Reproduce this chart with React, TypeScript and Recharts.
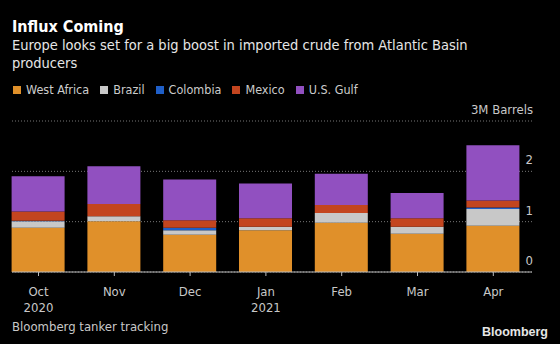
import { Bar, BarChart, CartesianGrid, XAxis, YAxis } from "recharts";

const months = ["Oct", "Nov", "Dec", "Jan", "Feb", "Mar", "Apr"];
const years = ["2020", "", "", "2021", "", "", ""];

const westAfrica = [0.88, 1.01, 0.74, 0.83, 0.98, 0.76, 0.92];
const brazil = [0.13, 0.1, 0.09, 0.07, 0.19, 0.14, 0.33];
const colombia = [0.01, 0, 0.05, 0, 0, 0, 0.03];
const mexico = [0.18, 0.24, 0.15, 0.17, 0.16, 0.17, 0.14];
const usGulf = [0.7, 0.75, 0.81, 0.69, 0.62, 0.5, 1.1];

const yTicks = [0, 1, 2, 3];

const series = [
  { key: "westAfrica", name: "West Africa", color: "#e0902a" },
  { key: "brazil", name: "Brazil", color: "#c8c8c8" },
  { key: "colombia", name: "Colombia", color: "#1f5fc8" },
  { key: "mexico", name: "Mexico", color: "#c3451f" },
  { key: "usGulf", name: "U.S. Gulf", color: "#9150c0" },
];

const data = months.map((m, i) => ({
  month: m,
  year: years[i],
  westAfrica: westAfrica[i],
  brazil: brazil[i],
  colombia: colombia[i],
  mexico: mexico[i],
  usGulf: usGulf[i],
}));

const FONT = '"DejaVu Sans Condensed", "Liberation Sans Narrow", "DejaVu Sans", sans-serif';

function MonthTick({ x, y, payload, index }: any) {
  return (
    <g>
      <text x={x} y={y + 18} textAnchor="middle" fill="#c8c8c8" fontSize={13} fontFamily={FONT}>
        {payload.value}
      </text>
      {years[index] ? (
        <text x={x} y={y + 34} textAnchor="middle" fill="#c8c8c8" fontSize={13} fontFamily={FONT}>
          {years[index]}
        </text>
      ) : null}
    </g>
  );
}

function ValueTick({ x, y, payload }: any) {
  const label = payload.value === 3 ? "3M Barrels" : String(payload.value);
  return (
    <text x={x} y={y - 7} textAnchor="end" fill="#c8c8c8" fontSize={13} fontFamily={FONT}>
      {label}
    </text>
  );
}

export default function App() {
  return (
    <div style={{ position: "absolute", left: 0, top: 0, width: 560, height: 344, background: "#000", fontFamily: FONT, overflow: "hidden" }}>
      <BarChart
        width={560}
        height={344}
        data={data}
        margin={{ top: 121, right: 0, bottom: 42, left: 12 }}
        style={{ position: "absolute", left: 0, top: 0 }}
      >
        <CartesianGrid vertical={false} stroke="#777" strokeDasharray="1 2" />
        <XAxis
          dataKey="month"
          height={30}
          padding={{ left: -11.4, right: 0.8 }}
          axisLine={{ stroke: "#bbb" }}
          tickLine={{ stroke: "#bbb" }}
          tickSize={4}
          tick={<MonthTick />}
          interval={0}
        />
        <YAxis
          orientation="right"
          width={28}
          domain={[0, 3]}
          ticks={yTicks}
          axisLine={false}
          tickLine={false}
          tickSize={0}
          tickMargin={1}
          tick={<ValueTick />}
        />
        {series.map((s) => (
          <Bar key={s.key} dataKey={s.key} name={s.name} stackId="a" fill={s.color} barSize={53} isAnimationActive={false} />
        ))}
      </BarChart>

      <div style={{ position: "absolute", left: 12, top: 17, color: "#fff", fontWeight: "bold", fontSize: 16, lineHeight: "20px" }}>
        Influx Coming
      </div>
      <div style={{ position: "absolute", left: 12, top: 36, width: 520, color: "#e6e6e6", fontSize: 14.5, lineHeight: "18px" }}>
        Europe looks set for a big boost in imported crude from Atlantic Basin producers
      </div>
      <div style={{ position: "absolute", left: 13, top: 82, display: "flex", gap: 11, color: "#cccccc", fontSize: 12.5, lineHeight: "16px" }}>
        {series.map((s) => (
          <div key={s.key} style={{ display: "flex", alignItems: "center" }}>
            <span style={{ display: "inline-block", width: 8, height: 8, background: s.color, marginRight: 5 }} />
            <span>{s.name}</span>
          </div>
        ))}
      </div>
      <div style={{ position: "absolute", left: 12, top: 319, color: "#c8c8c8", fontSize: 13, lineHeight: "16px" }}>
        Bloomberg tanker tracking
      </div>
      <div style={{ position: "absolute", right: 12, top: 325, color: "#e6e6e6", fontSize: 12.5, fontWeight: "bold", lineHeight: "15px", fontFamily: '"Liberation Sans", Arial, sans-serif' }}>
        Bloomberg
      </div>
    </div>
  );
}
